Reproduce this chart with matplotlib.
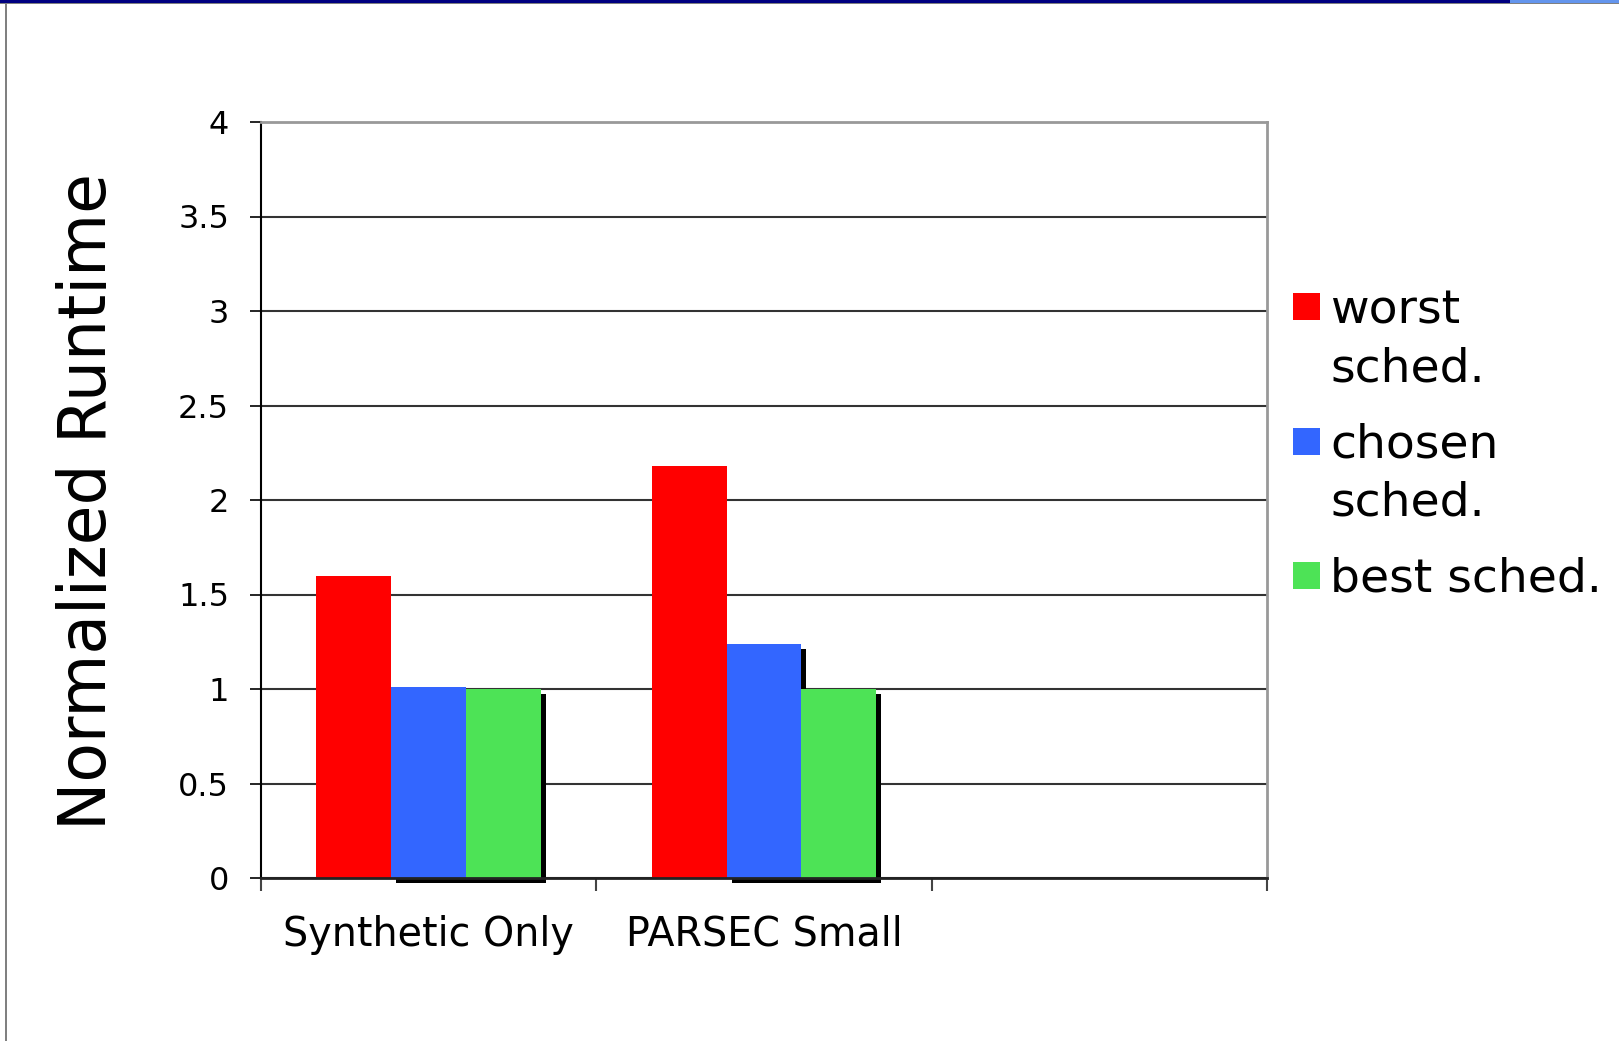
import matplotlib
matplotlib.use("Agg")
import matplotlib.pyplot as plt
import matplotlib.transforms as mtransforms
from matplotlib.patches import Rectangle
import numpy as np

categories = ["Synthetic Only", "PARSEC Small", ""]
series_names = ["worst\nsched.", "chosen\nsched.", "best sched."]
worst = [1.60, 2.18, np.nan]
chosen = [1.01, 1.24, np.nan]
best = [1.00, 1.00, np.nan]
colors = ["#FF0000", "#3366FF", "#4DE356"]
yticks = [0, 0.5, 1, 1.5, 2, 2.5, 3, 3.5, 4]
ytick_labels = ["0", "0.5", "1", "1.5", "2", "2.5", "3", "3.5", "4"]

W, H = 1619, 1041
fig = plt.figure(figsize=(W / 100, H / 100), dpi=100)
fig.patch.set_facecolor("white")

# slide decorations
fig.add_artist(Rectangle((0, 1 - 3 / H), 1510 / W, 3 / H, transform=fig.transFigure,
                         facecolor="#000080", edgecolor="none"))
fig.add_artist(Rectangle((1510 / W, 1 - 3 / H), 1 - 1510 / W, 3 / H, transform=fig.transFigure,
                         facecolor="#6495ED", edgecolor="none"))
fig.add_artist(Rectangle((0, 1 - 4 / H), 1, 1 / H, transform=fig.transFigure,
                         facecolor="#808080", edgecolor="none"))
fig.add_artist(Rectangle((5 / W, 0), 2 / W, 1 - 3 / H, transform=fig.transFigure,
                         facecolor="#808080", edgecolor="none"))

ax = fig.add_axes([261 / W, 163 / H, (1267 - 261) / W, (878 - 122) / H])
x = np.arange(len(categories))
bw = 0.2232
data = [worst, chosen, best]
offsets = [-bw, 0, bw]

shadow_tr = mtransforms.offset_copy(ax.transData, fig=fig, x=5, y=-5, units="dots")
for i in (1, 2):
    ax.bar(x + offsets[i], data[i], width=bw, color="black", transform=shadow_tr,
           zorder=1, clip_on=False, linewidth=0)
for i in range(3):
    ax.bar(x + offsets[i], data[i], width=bw, color=colors[i], zorder=2 + i * 0.1,
           linewidth=0)

ax.set_xlim(-0.5, len(categories) - 0.5)
ax.set_ylim(0, 4)
ax.set_yticks(yticks)
ax.set_yticklabels(ytick_labels, fontsize=23)
ax.yaxis.grid(True, color="#333333", linewidth=1.5)
ax.set_axisbelow(True)
ax.tick_params(axis="y", length=8, width=1.2, pad=15, colors="black")

ax.set_xticks(x)
ax.set_xticklabels(categories, fontsize=28.5)
ax.tick_params(axis="x", which="major", length=0, pad=26.5)
ax.set_xticks(np.arange(len(categories) + 1) - 0.5, minor=True)
ax.tick_params(axis="x", which="minor", length=9, width=1.5, color="#444444")

for s in ("top", "right"):
    ax.spines[s].set_color("#999999")
    ax.spines[s].set_linewidth(2)
ax.spines["left"].set_color("black")
ax.spines["left"].set_linewidth(1.5)
ax.spines["bottom"].set_color("#222222")
ax.spines["bottom"].set_linewidth(2)

fig.text(88 / W, 1 - 501 / H, "Normalized Runtime", rotation=90, fontsize=46.5,
         ha="center", va="center")

# legend
sq_tops = [293, 428, 562]
first_base = [323, 458, 592]
for i, name in enumerate(series_names):
    fig.add_artist(Rectangle((1293 / W, 1 - (sq_tops[i] + 27) / H), 27 / W, 27 / H,
                             transform=fig.transFigure, facecolor=colors[i], edgecolor="none"))
    for j, line in enumerate(name.split("\n")):
        fig.text(1330 / W, 1 - (first_base[i] + 58 * j) / H, line, fontsize=34,
                 ha="left", va="baseline")

fig.savefig("out.png", dpi=100)
